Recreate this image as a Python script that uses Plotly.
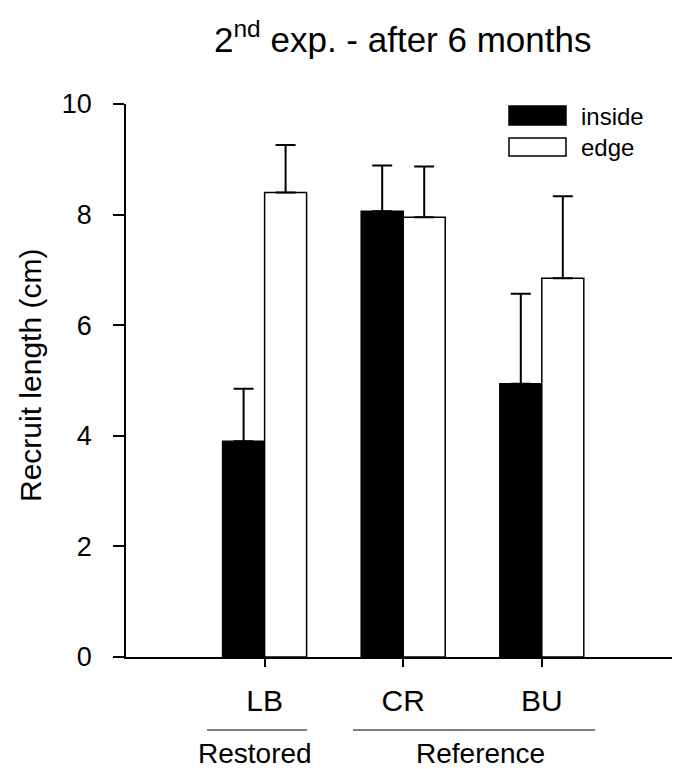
import plotly.graph_objects as go

# ---- data ----
sites = ["LB", "CR", "BU"]
site_pos = [1, 2, 3]
groups = ["Restored", "Reference"]
series_names = ["inside", "edge"]
inside_mean = [3.90, 8.06, 4.94]
inside_err = [0.95, 0.83, 1.63]
edge_mean = [8.40, 7.95, 6.85]
edge_err = [0.86, 0.92, 1.48]
y_ticks = [0, 2, 4, 6, 8, 10]

FONT = "Arial, Liberation Sans, sans-serif"

# plot area geometry (px)
L, R, T, B = 118, 673, 96, 649
W, H = 680, 769
pw, ph = R - L, B - T

def px(xp):
    return (xp - L) / pw

def py(yp):
    return (B - yp) / ph

fig = go.Figure()
fig.add_trace(go.Bar(
    x=site_pos, y=inside_mean, name=series_names[0],
    marker=dict(color="black", line=dict(color="black", width=1.5)),
    error_y=dict(type="data", array=inside_err, symmetric=False,
                 arrayminus=[0, 0, 0], color="black", thickness=2, width=10),
))
fig.add_trace(go.Bar(
    x=site_pos, y=edge_mean, name=series_names[1],
    marker=dict(color="white", line=dict(color="black", width=1.5)),
    error_y=dict(type="data", array=edge_err, symmetric=False,
                 arrayminus=[0, 0, 0], color="black", thickness=2, width=10),
))

fig.update_layout(
    width=W, height=H,
    margin=dict(l=L, r=W - R, t=T, b=H - B, pad=0),
    paper_bgcolor="white", plot_bgcolor="white",
    barmode="group", bargap=0.394, bargroupgap=0,
    showlegend=False,
    font=dict(family=FONT, color="black"),
    xaxis=dict(
        range=[0, pw / 138.6], tickvals=site_pos, ticktext=sites,
        ticks="outside", ticklen=8, tickwidth=1.5, tickcolor="black",
        showline=True, linecolor="black", linewidth=1.5,
        showgrid=False, zeroline=False,
        tickfont=dict(size=30, family=FONT, color="black"),
        ticklabelstandoff=8,
    ),
    yaxis=dict(
        range=[0, 10], tickvals=y_ticks,
        ticks="outside", ticklen=11, tickwidth=1.5, tickcolor="black",
        showline=True, linecolor="black", linewidth=1.5,
        showgrid=False, zeroline=False,
        tickfont=dict(size=27, family=FONT, color="black"),
        ticklabelstandoff=16,
    ),
)

shapes = []
# x-axis line extension to the left of the y-axis
shapes.append(dict(type="line", xref="paper", yref="paper",
                   x0=px(107), x1=0, y0=0, y1=0,
                   line=dict(color="black", width=1.5)))
# group underlines
for x0p, x1p in [(199, 299), (345, 587)]:
    shapes.append(dict(type="line", xref="paper", yref="paper",
                       x0=px(x0p), x1=px(x1p), y0=py(722), y1=py(722),
                       line=dict(color="#555555", width=1.5)))
# legend swatches
shapes.append(dict(type="rect", xref="paper", yref="paper",
                   x0=px(501), x1=px(558), y0=py(117), y1=py(98),
                   fillcolor="black", line=dict(color="black", width=1.5)))
shapes.append(dict(type="rect", xref="paper", yref="paper",
                   x0=px(501), x1=px(558), y0=py(148), y1=py(130),
                   fillcolor="white", line=dict(color="black", width=1.5)))
fig.update_layout(shapes=shapes)

ann = []
# group labels
for g, cx in zip(groups, [247, 472]):
    ann.append(dict(text=g, xref="paper", yref="paper", x=px(cx), y=py(745),
                    xanchor="center", yanchor="middle", showarrow=False,
                    font=dict(size=28, family=FONT, color="black")))
# legend text
for name, cy in zip(series_names, [108, 139]):
    ann.append(dict(text=name, xref="paper", yref="paper", x=px(571), y=py(cy),
                    xanchor="left", yanchor="middle", showarrow=False,
                    font=dict(size=24, family=FONT, color="black")))
# y-axis title
ann.append(dict(text="Recruit length (cm)", xref="paper", yref="paper",
                x=px(22), y=py(368), textangle=-90,
                xanchor="center", yanchor="middle", showarrow=False,
                font=dict(size=30, family=FONT, color="black")))
# title
ann.append(dict(text="2<sup>nd</sup> exp. - after 6 months", xref="paper", yref="paper",
                x=px(394), y=py(29), xanchor="center", yanchor="middle",
                showarrow=False, font=dict(size=35, family=FONT, color="black")))
fig.update_layout(annotations=ann)

fig.write_html("out.html")
